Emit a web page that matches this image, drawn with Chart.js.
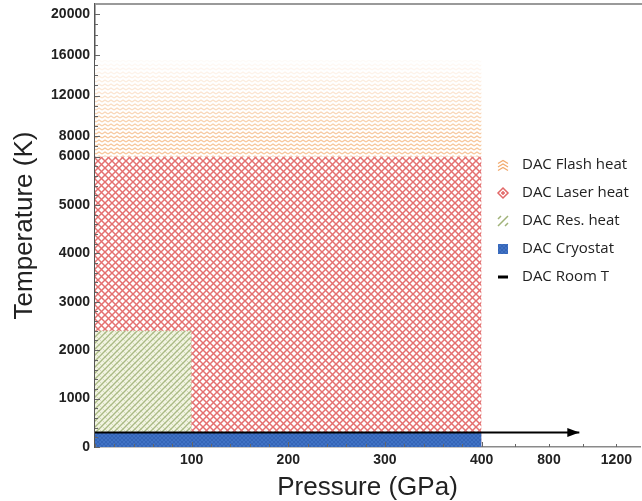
<!DOCTYPE html>
<html>
<head>
<meta charset="utf-8">
<script src="https://cdn.jsdelivr.net/npm/chart.js@4.4.1/dist/chart.umd.min.js"></script>
<style>
  html, body { margin: 0; padding: 0; background: #fff; }
  canvas { display: block; }
</style>
</head>
<body>
<canvas id="dacChart" width="642" height="501"></canvas>
<script>
// DAC working ranges: pressure (GPa) and temperature (K)
const seriesNames = ['DAC Flash heat', 'DAC Laser heat', 'DAC Res. heat', 'DAC Cryostat', 'DAC Room T'];
const flashP = [0, 400];
const flashT = [6000, 15500];
const laserP = [0, 400];
const laserT = [0, 6000];
const resP = [0, 100];
const resT = [0, 2400];
const cryoP = [0, 400];
const cryoT = [0, 300];
const roomP = [0, 980];
const roomT = [300, 300];

const xTickValues = [100, 200, 300, 400, 800, 1200];
const yTickValues = [0, 1000, 2000, 3000, 4000, 5000, 6000, 8000, 12000, 16000, 20000];
const xMax = 1340;
const yMax = 21000;

// both axes are broken: above the break the scale gets squeezed
const xBreak = 400, xSqueeze = 0.1744;
const yBreak = 6000, ySqueeze = 0.21;
const tx = p => p <= xBreak ? p : xBreak + (p - xBreak) * xSqueeze;
const ty = t => t <= yBreak ? t : yBreak + (t - yBreak) * ySqueeze;

// minor tick marks (drawn inside the plot)
const xMinor = [];
for (let p = 0; p <= 400; p += 20) xMinor.push(p);
xMinor.push(600, 800, 1000, 1200);
const yMinor = [];
for (let t = 0; t <= 6000; t += 200) yMinor.push(t);
for (let t = 7000; t <= 20000; t += 1000) yMinor.push(t);

Chart.defaults.font.family = '"Liberation Sans", Arial, sans-serif';

function tile(w, h, bg, draw) {
  const c = document.createElement('canvas');
  c.width = w; c.height = h;
  const g = c.getContext('2d');
  if (bg) { g.fillStyle = bg; g.fillRect(0, 0, w, h); }
  draw(g, w, h);
  return g.createPattern(c, 'repeat');
}

const laserPattern = tile(7, 7, '#ffffff', (g, s) => {
  g.strokeStyle = 'rgb(228,112,112)';
  g.lineWidth = 1.5;
  for (const d of [-s, 0, s]) {
    g.beginPath(); g.moveTo(d, 0); g.lineTo(d + s, s); g.stroke();
    g.beginPath(); g.moveTo(d + s, 0); g.lineTo(d, s); g.stroke();
  }
});

const resPattern = tile(6, 6, 'rgb(242,244,226)', (g, s) => {
  g.strokeStyle = 'rgb(170,186,132)';
  g.lineWidth = 1.3;
  for (const d of [-s, 0, s]) {
    g.beginPath(); g.moveTo(d, s); g.lineTo(d + s, 0); g.stroke();
  }
  g.strokeStyle = 'rgba(170,186,132,0.5)';
  g.lineWidth = 0.8;
  for (const d of [-s, 0, s]) {
    g.beginPath(); g.moveTo(d, 0); g.lineTo(d + s, s); g.stroke();
  }
});

const cryoPattern = tile(4, 4, 'rgb(64,114,196)', (g, s) => {
  g.strokeStyle = 'rgb(50,98,180)';
  g.lineWidth = 0.8;
  for (const d of [-s, 0, s]) {
    g.beginPath(); g.moveTo(d, 0); g.lineTo(d + s, s); g.stroke();
    g.beginPath(); g.moveTo(d + s, 0); g.lineTo(d, s); g.stroke();
  }
});

// flash heat fades out towards its top edge
let flashCache = null;
function flashPattern(chart) {
  const y = chart.scales && chart.scales.y;
  if (!y) return 'rgb(246,206,168)';
  const top = y.getPixelForValue(ty(flashT[1]));
  const solid = y.getPixelForValue(ty(8000));
  const key = top + ':' + solid + ':' + chart.height;
  if (flashCache && flashCache.key === key) return flashCache.p;
  const h = chart.height;
  const p = tile(6, h, '#ffffff', (g, w) => {
    g.lineWidth = 1.3;
    for (let r = 0; r < h; r += 4) {
      const a = Math.max(0, Math.min(1, (r - top) / (solid - top)));
      g.strokeStyle = 'rgba(244,178,118,' + (0.05 + 0.7 * a) + ')';
      g.beginPath();
      g.moveTo(0, r + 2); g.lineTo(w / 2, r); g.lineTo(w, r + 2);
      g.stroke();
    }
  });
  flashCache = {key, p};
  return p;
}

function rect(p, t) {
  return [{x: tx(p[0]), y: ty(t[1])}, {x: tx(p[1]), y: ty(t[1])}];
}

const ticksPlugin = {
  id: 'innerTicks',
  afterDatasetsDraw(chart) {
    const {ctx, chartArea: a, scales: {x, y}} = chart;
    ctx.save();
    ctx.strokeStyle = '#666';
    ctx.lineWidth = 1;
    ctx.beginPath();
    xMinor.forEach(p => {
      const px = Math.round(x.getPixelForValue(tx(p))) + 0.5;
      const len = (p % 100 === 0 && p <= 400 && p > 0) ? 5 : 3;
      ctx.moveTo(px, a.bottom); ctx.lineTo(px, a.bottom - len);
    });
    yMinor.forEach(t => {
      const py = Math.round(y.getPixelForValue(ty(t))) + 0.5;
      const len = yTickValues.includes(t) ? 5 : 3;
      ctx.moveTo(a.left, py); ctx.lineTo(a.left + len, py);
    });
    ctx.stroke();

    // arrow head on the room temperature line
    const meta = chart.getDatasetMeta(4);
    const end = meta.data[meta.data.length - 1];
    ctx.fillStyle = '#000';
    ctx.beginPath();
    ctx.moveTo(end.x, end.y);
    ctx.lineTo(end.x - 12, end.y - 4.5);
    ctx.lineTo(end.x - 12, end.y + 4.5);
    ctx.closePath();
    ctx.fill();

    // frame line on top
    ctx.strokeStyle = '#9a9a9a';
    ctx.lineWidth = 2;
    ctx.beginPath();
    ctx.moveTo(a.left, a.top);
    ctx.lineTo(chart.width, a.top);
    ctx.stroke();
    ctx.restore();
  }
};

const legendPlugin = {
  id: 'dacLegend',
  afterDraw(chart) {
    const ctx = chart.ctx;
    const cx = 503, tx0 = 522, y0 = 165, step = 28;
    ctx.save();
    seriesNames.forEach((name, i) => {
      const cy = y0 + i * step;
      if (i === 0) {
        ctx.strokeStyle = 'rgb(242,170,110)';
        ctx.lineWidth = 1.3;
        for (let k = -1; k <= 1; k++) {
          ctx.beginPath();
          ctx.moveTo(cx - 5, cy + k * 3.5 + 2);
          ctx.lineTo(cx, cy + k * 3.5 - 1);
          ctx.lineTo(cx + 5, cy + k * 3.5 + 2);
          ctx.stroke();
        }
      } else if (i === 1) {
        ctx.strokeStyle = 'rgb(226,104,104)';
        ctx.lineWidth = 1.5;
        ctx.beginPath();
        ctx.moveTo(cx, cy - 5); ctx.lineTo(cx + 5, cy); ctx.lineTo(cx, cy + 5); ctx.lineTo(cx - 5, cy);
        ctx.closePath();
        ctx.stroke();
        ctx.beginPath();
        ctx.moveTo(cx - 2, cy); ctx.lineTo(cx + 2, cy);
        ctx.moveTo(cx, cy - 2); ctx.lineTo(cx, cy + 2);
        ctx.stroke();
      } else if (i === 2) {
        ctx.strokeStyle = 'rgb(160,178,120)';
        ctx.lineWidth = 1.5;
        ctx.beginPath();
        ctx.moveTo(cx - 5, cy + 5); ctx.lineTo(cx + 5, cy - 5);
        ctx.moveTo(cx - 5, cy - 2); ctx.lineTo(cx - 2, cy - 5);
        ctx.moveTo(cx + 2, cy + 5); ctx.lineTo(cx + 5, cy + 2);
        ctx.stroke();
      } else if (i === 3) {
        ctx.fillStyle = cryoPattern;
        ctx.fillRect(cx - 5, cy - 5, 10, 10);
      } else {
        ctx.fillStyle = '#000';
        ctx.fillRect(cx - 5, cy - 1.5, 10, 3);
      }
      ctx.fillStyle = '#222';
      ctx.font = '15px "Open Sans", sans-serif';
      ctx.textBaseline = 'middle';
      ctx.textAlign = 'left';
      ctx.fillText(name, tx0, cy);
    });
    ctx.restore();
  }
};

const tickFont = {size: 14, weight: 'bold'};

new Chart(document.getElementById('dacChart'), {
  type: 'line',
  data: {
    datasets: [
      {label: seriesNames[0], data: rect(flashP, flashT), fill: {value: ty(flashT[0])},
        backgroundColor: c => flashPattern(c.chart), borderColor: 'transparent', borderWidth: 0, pointRadius: 0, order: 4},
      {label: seriesNames[1], data: rect(laserP, laserT), fill: {value: ty(laserT[0])},
        backgroundColor: laserPattern, borderColor: 'transparent', borderWidth: 0, pointRadius: 0, order: 5},
      {label: seriesNames[2], data: rect(resP, resT), fill: {value: ty(resT[0])},
        backgroundColor: resPattern, borderColor: 'transparent', borderWidth: 0, pointRadius: 0, order: 3},
      {label: seriesNames[3], data: rect(cryoP, cryoT), fill: {value: ty(cryoT[0])},
        backgroundColor: cryoPattern, borderColor: 'transparent', borderWidth: 0, pointRadius: 0, order: 2},
      {label: seriesNames[4], data: roomP.map((p, i) => ({x: tx(p), y: ty(roomT[i])})), fill: false,
        borderColor: '#000', borderWidth: 2, pointRadius: 0, order: 1}
    ]
  },
  options: {
    responsive: false,
    animation: false,
    devicePixelRatio: 1,
    layout: {padding: {top: 4, right: 2, left: 0, bottom: 0}},
    plugins: {legend: {display: false}, tooltip: {enabled: false}},
    scales: {
      x: {
        type: 'linear',
        min: 0,
        max: tx(xMax),
        afterBuildTicks: s => { s.ticks = xTickValues.map(v => ({value: tx(v)})); },
        afterFit: s => { s.height = 54; s.paddingLeft = 0; s.paddingRight = 0; },
        ticks: {autoSkip: false, maxRotation: 0, padding: 5, color: '#222', font: tickFont,
          callback: (v, i) => String(xTickValues[i])},
        grid: {display: true, drawOnChartArea: false, drawTicks: false},
        border: {display: true, color: '#8a8a8a', width: 1.5},
        title: {display: true, text: 'Pressure (GPa)', color: '#222',
          font: {size: 26, lineHeight: 1}, padding: {top: 0, bottom: 0}}
      },
      y: {
        type: 'linear',
        min: 0,
        max: ty(yMax),
        afterBuildTicks: s => { s.ticks = yTickValues.map(v => ({value: ty(v)})); },
        afterFit: s => { s.width = 95; s.paddingTop = 0; s.paddingBottom = 0; },
        ticks: {autoSkip: false, padding: 5, color: '#222', font: tickFont,
          callback: (v, i) => String(yTickValues[i])},
        grid: {display: true, drawOnChartArea: false, drawTicks: false},
        border: {display: true, color: '#555', width: 1.5},
        title: {display: true, text: 'Temperature (K)', color: '#222',
          font: {size: 26, lineHeight: 1}, padding: {top: 12, bottom: 0}}
      }
    }
  },
  plugins: [ticksPlugin, legendPlugin]
});
</script>
</body>
</html>
